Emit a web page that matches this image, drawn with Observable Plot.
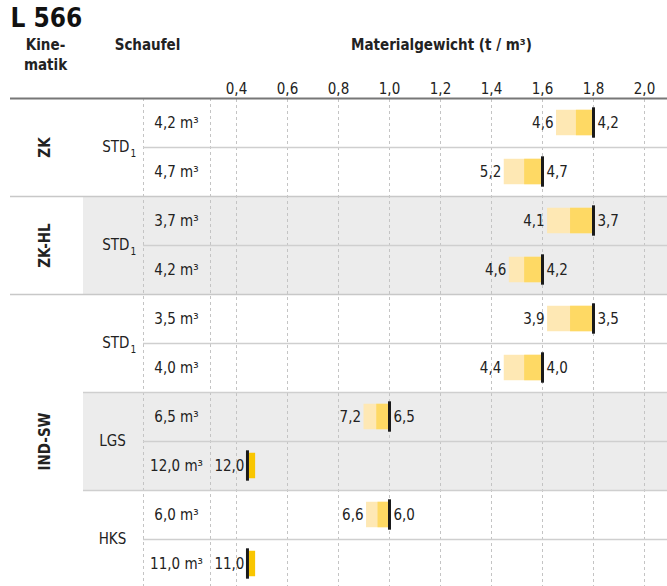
<!DOCTYPE html>
<html>
<head>
<meta charset="utf-8">
<script src="https://cdn.jsdelivr.net/npm/d3@7"></script>
<script src="https://cdn.jsdelivr.net/npm/@observablehq/plot@0.6"></script>
<style>
  html, body { margin: 0; padding: 0; background: #fff; }
  svg { display: block; }
</style>
</head>
<body>
<div id="chart"></div>
<script>
// ---- data ----
const title = "L 566";
const kinematikHeader = ["Kine-", "matik"];
const schaufelHeader = "Schaufel";
const axisTitle = "Materialgewicht (t / m³)";
const tickValues = [0.4, 0.6, 0.8, 1.0, 1.2, 1.4, 1.6, 1.8, 2.0];

const kinematik = ["ZK", "ZK-HL", "IND-SW"];
const kinematikRows = [[0, 2], [2, 4], [4, 10]];            // row spans
const schaufelTypes = ["STD", "STD", "STD", "LGS", "HKS"];
const schaufelSubscripts = ["1", "1", "1", "", ""];
const schaufelRows = [[0, 2], [2, 4], [4, 6], [6, 8], [8, 10]];
const schaufelShaded = [false, true, false, true, false];

const volumes = ["4,2 m³", "4,7 m³", "3,7 m³", "4,2 m³", "3,5 m³", "4,0 m³", "6,5 m³", "12,0 m³", "6,0 m³", "11,0 m³"];
const nominal = [1.8, 1.6, 1.8, 1.6, 1.8, 1.6, 1.0, 0.443, 1.0, 0.443];
const darkStart = [1.733, 1.53, 1.71, 1.53, 1.71, 1.53, 0.95, null, 0.955, null];
const lightStart = [1.655, 1.45, 1.62, 1.47, 1.62, 1.45, 0.90, null, 0.91, null];
const smallBarStart = [null, null, null, null, null, null, null, 0.451, null, 0.451];
const smallBarEnd = [null, null, null, null, null, null, null, 0.475, null, 0.475];
const leftLabels = ["4,6", "5,2", "4,1", "4,6", "3,9", "4,4", "7,2", "12,0", "6,6", "11,0"];
const rightLabels = ["4,2", "4,7", "3,7", "4,2", "3,5", "4,0", "6,5", "", "6,0", ""];

// ---- layout (in x data units of the density scale) ----
const pxPerUnit = 255, px0 = 134;          // x(0) pixel, pixels per t/m³
const u = px => (px - px0) / pxPerUnit;    // pixel -> data unit helper for layout columns
const xMin = u(0), xMax = u(667);
const colKin = u(45), colSchaufel = u(112), colSubStart = u(130), colVol = u(176);
const lineStartKin = u(10), lineStartSch = u(83), lineStartVol = u(143);
const colSeparators = [u(143), u(210)];
const rowPx = 49, topPx = 98, H = 586;
const yMax = (H - topPx) / rowPx;
const yp = px => (px - topPx) / rowPx;

const rows = volumes.map((v, i) => ({
  i, vol: v, nominal: nominal[i], dark: darkStart[i], light: lightStart[i],
  sb0: smallBarStart[i], sb1: smallBarEnd[i],
  left: leftLabels[i], right: rightLabels[i],
  leftAt: lightStart[i] ?? nominal[i]
}));
const bars = rows.filter(d => d.light != null);
const smallBars = rows.filter(d => d.sb0 != null);
const sch = schaufelTypes.map((t, k) => ({t, sub: schaufelSubscripts[k], a: schaufelRows[k][0], b: schaufelRows[k][1], shaded: schaufelShaded[k]}));
const kin = kinematik.map((t, k) => ({t, a: kinematikRows[k][0], b: kinematikRows[k][1]}));

// separator lines
const innerSeps = sch.map(s => ({y: (s.a + s.b) / 2, x1: lineStartVol}));
const schSeps = sch.slice(1).filter(s => !kin.some(k => k.a === s.a)).map(s => ({y: s.a, x1: lineStartSch}));
const kinSeps = kin.slice(1).map(k => ({y: k.a, x1: lineStartKin}));

const fmt = d => d.toFixed(1).replace(".", ",");
const FONT = "'DejaVu Sans Condensed', 'DejaVu Sans', sans-serif";
const INK = "#222";

const chart = Plot.plot({
  width: 667,
  height: H,
  marginLeft: 0, marginRight: 0, marginTop: topPx, marginBottom: 0,
  style: {fontFamily: FONT, fontStretch: "condensed", color: INK, background: "#fff", overflow: "visible"},
  x: {domain: [xMin, xMax], range: [0, 667], axis: null},
  y: {domain: [0, yMax], range: [topPx, H], axis: null},
  marks: [
    // shaded backgrounds
    Plot.rect(sch.filter(s => s.shaded), {x1: lineStartSch, x2: xMax, y1: "a", y2: "b", fill: "#ececec"}),
    // grid & column separators (dashed)
    Plot.ruleX(tickValues, {y1: yp(93), y2: yMax, stroke: "#c4c4c4", strokeWidth: 1, strokeDasharray: "3,3"}),
    Plot.ruleX(colSeparators, {y1: 0, y2: yMax, stroke: "#c4c4c4", strokeWidth: 1, strokeDasharray: "3,3"}),
    // horizontal separators
    Plot.ruleY(innerSeps, {y: "y", x1: "x1", x2: xMax, stroke: "#cfcfcf", strokeWidth: 1.5}),
    Plot.ruleY(schSeps, {y: "y", x1: "x1", x2: xMax, stroke: "#cfcfcf", strokeWidth: 1.5}),
    Plot.ruleY(kinSeps, {y: "y", x1: "x1", x2: xMax, stroke: "#c8c8c8", strokeWidth: 1.5}),
    Plot.ruleY([0], {x1: lineStartKin, x2: xMax, stroke: "#777", strokeWidth: 2}),
    // bars
    Plot.rect(bars, {x1: "light", x2: "nominal", y1: d => d.i + 0.24, y2: d => d.i + 0.76, fill: "#fee8b4"}),
    Plot.rect(bars, {x1: "dark", x2: "nominal", y1: d => d.i + 0.24, y2: d => d.i + 0.76, fill: "#fed964"}),
    Plot.rect(smallBars, {x1: "sb0", x2: "sb1", y1: d => d.i + 0.24, y2: d => d.i + 0.76, fill: "#f9c600"}),
    Plot.ruleX(rows, {x: "nominal", y1: d => d.i + 0.19, y2: d => d.i + 0.81, stroke: "#1a1a1a", strokeWidth: 3}),
    // value labels
    Plot.text(rows, {x: "leftAt", y: d => d.i + 0.5, text: "left", textAnchor: "end", dx: -3, fontSize: 15, fill: INK}),
    Plot.text(rows, {x: "nominal", y: d => d.i + 0.5, text: "right", textAnchor: "start", dx: 4, fontSize: 15, fill: INK}),
    // table columns
    Plot.text(rows, {x: colVol, y: d => d.i + 0.5, text: "vol", textAnchor: "middle", fontSize: 15, fill: INK}),
    Plot.text(sch.filter(s => !s.sub), {x: colSchaufel, y: d => (d.a + d.b) / 2, text: "t", textAnchor: "middle", fontSize: 15, fill: INK}),
    Plot.text(sch.filter(s => s.sub), {x: colSubStart, y: d => (d.a + d.b) / 2, text: "t", textAnchor: "end", dx: -1, fontSize: 15, fill: INK}),
    Plot.text(sch.filter(s => s.sub), {x: colSubStart, y: d => (d.a + d.b) / 2, text: "sub", textAnchor: "start", dy: 6, fontSize: 10, fill: INK}),
    Plot.text(kin, {x: colKin, y: d => (d.a + d.b) / 2, text: "t", rotate: -90, textAnchor: "middle", fontSize: 15, fontWeight: "bold", fill: INK}),
    // axis
    Plot.axisX({anchor: "top", ticks: tickValues, tickFormat: fmt, tickSize: 0, tickPadding: 5, fontSize: 15, label: null, color: INK}),
    // headers
    Plot.text([title], {x: u(10), y: yp(18), text: d => d, textAnchor: "start", fontSize: 26, fontWeight: "bold", fill: "#111"}),
    Plot.text(kinematikHeader, {x: colKin, y: (d, i) => yp(45 + i * 20), text: d => d, textAnchor: "middle", fontSize: 15, fontWeight: "bold", fill: INK}),
    Plot.text([schaufelHeader], {x: u(147), y: yp(45), text: d => d, textAnchor: "middle", fontSize: 15, fontWeight: "bold", fill: INK}),
    Plot.text([axisTitle], {x: u(441), y: yp(45), text: d => d, textAnchor: "middle", fontSize: 15, fontWeight: "bold", fill: INK})
  ]
});
document.getElementById("chart").appendChild(chart);
</script>
</body>
</html>
